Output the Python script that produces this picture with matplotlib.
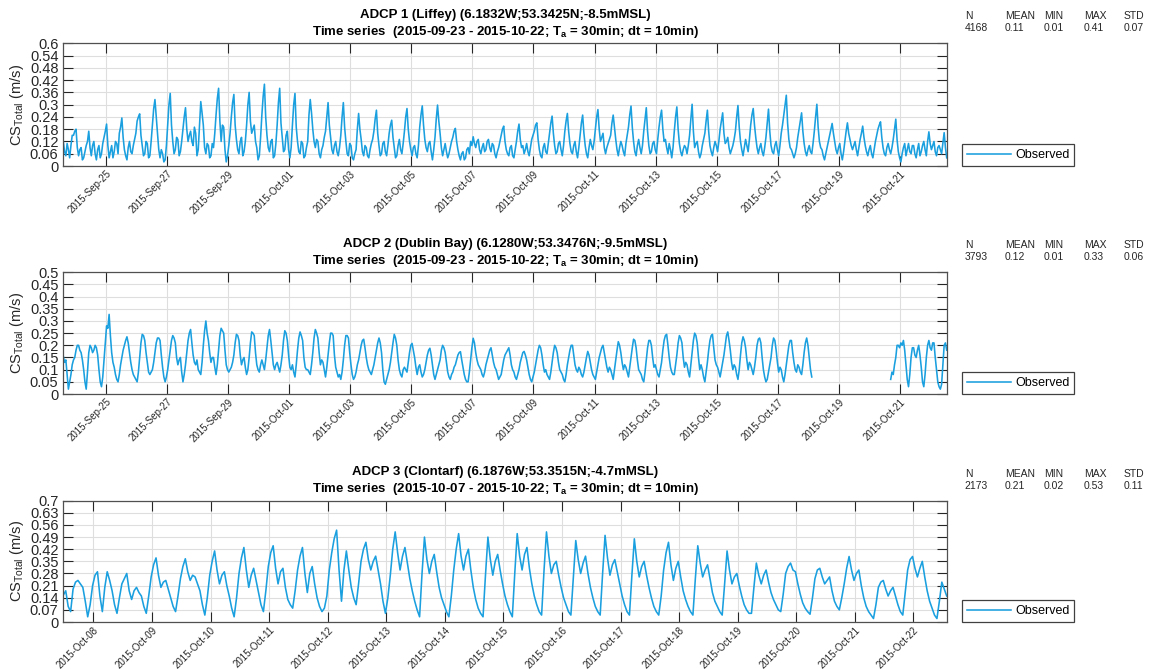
import numpy as np
import pandas as pd
import matplotlib
matplotlib.use("Agg")
import matplotlib.pyplot as plt
import matplotlib.dates as mdates
from matplotlib.ticker import FormatStrFormatter
from matplotlib.transforms import offset_copy

plt.rcParams["font.family"] = ["Liberation Sans", "DejaVu Sans"]
plt.rcParams["mathtext.default"] = "regular"

# Current speed (m/s), hourly values, one row per day
liffey_start = "2015-09-23 14:40"
liffey_speed = [
    0.12, 0.07, 0.05, 0.11, 0.08, 0.04, 0.10, 0.15, 0.15, 0.17, 0.18, 0.09, 0.05, 0.08, 0.09, 0.03, 0.04, 0.07, 0.10, 0.12, 0.17, 0.09, 0.05, 0.10,
    0.12, 0.06, 0.03, 0.08, 0.10, 0.04, 0.06, 0.11, 0.14, 0.17, 0.205, 0.10, 0.04, 0.07, 0.10, 0.04, 0.07, 0.12, 0.11, 0.06, 0.16, 0.19, 0.235, 0.14,
    0.08, 0.05, 0.03, 0.09, 0.12, 0.07, 0.06, 0.10, 0.13, 0.16, 0.22, 0.24, 0.255, 0.15, 0.10, 0.05, 0.06, 0.12, 0.11, 0.04, 0.05, 0.12, 0.20, 0.28,
    0.325, 0.24, 0.16, 0.08, 0.04, 0.08, 0.06, 0.02, 0.03, 0.10, 0.20, 0.30, 0.355, 0.20, 0.12, 0.06, 0.08, 0.14, 0.13, 0.05, 0.07, 0.12, 0.18, 0.24,
    0.285, 0.18, 0.12, 0.15, 0.17, 0.12, 0.10, 0.19, 0.16, 0.05, 0.08, 0.20, 0.315, 0.26, 0.20, 0.09, 0.06, 0.11, 0.10, 0.04, 0.05, 0.11, 0.09, 0.16,
    0.25, 0.33, 0.38, 0.22, 0.12, 0.20, 0.19, 0.08, 0.02, 0.05, 0.10, 0.16, 0.24, 0.31, 0.35, 0.20, 0.13, 0.08, 0.06, 0.12, 0.14, 0.05, 0.07, 0.12,
    0.20, 0.30, 0.36, 0.22, 0.16, 0.18, 0.20, 0.12, 0.09, 0.03, 0.05, 0.14, 0.25, 0.34, 0.40, 0.24, 0.15, 0.09, 0.07, 0.12, 0.13, 0.04, 0.05, 0.11,
    0.20, 0.31, 0.38, 0.21, 0.14, 0.07, 0.08, 0.15, 0.17, 0.08, 0.04, 0.09, 0.20, 0.30, 0.355, 0.19, 0.12, 0.07, 0.06, 0.12, 0.11, 0.04, 0.05, 0.09,
    0.12, 0.25, 0.325, 0.26, 0.18, 0.12, 0.09, 0.13, 0.12, 0.06, 0.04, 0.08, 0.10, 0.14, 0.17, 0.24, 0.31, 0.20, 0.14, 0.08, 0.06, 0.10, 0.12, 0.07,
    0.05, 0.09, 0.15, 0.24, 0.31, 0.19, 0.12, 0.06, 0.05, 0.11, 0.10, 0.04, 0.03, 0.06, 0.08, 0.18, 0.257, 0.18, 0.13, 0.07, 0.05, 0.10, 0.09, 0.05,
    0.04, 0.08, 0.11, 0.13, 0.17, 0.23, 0.273, 0.16, 0.10, 0.05, 0.06, 0.11, 0.12, 0.07, 0.05, 0.10, 0.16, 0.20, 0.224, 0.14, 0.09, 0.04, 0.05, 0.10,
    0.13, 0.08, 0.06, 0.11, 0.17, 0.24, 0.281, 0.18, 0.12, 0.08, 0.05, 0.09, 0.10, 0.06, 0.04, 0.10, 0.19, 0.25, 0.294, 0.20, 0.13, 0.09, 0.07, 0.11,
    0.12, 0.07, 0.03, 0.08, 0.14, 0.23, 0.298, 0.22, 0.16, 0.09, 0.05, 0.08, 0.11, 0.07, 0.04, 0.06, 0.09, 0.12, 0.14, 0.17, 0.184, 0.12, 0.08, 0.05,
    0.03, 0.06, 0.07, 0.03, 0.04, 0.08, 0.09, 0.06, 0.12, 0.10, 0.143, 0.11, 0.09, 0.12, 0.13, 0.08, 0.06, 0.09, 0.11, 0.07, 0.08, 0.12, 0.13, 0.09,
    0.07, 0.11, 0.10, 0.06, 0.04, 0.07, 0.09, 0.12, 0.15, 0.18, 0.195, 0.12, 0.08, 0.06, 0.05, 0.09, 0.10, 0.05, 0.04, 0.08, 0.12, 0.17, 0.205, 0.13,
    0.09, 0.10, 0.06, 0.08, 0.11, 0.07, 0.05, 0.09, 0.13, 0.15, 0.17, 0.20, 0.211, 0.13, 0.08, 0.05, 0.04, 0.09, 0.11, 0.07, 0.06, 0.11, 0.16, 0.21,
    0.244, 0.16, 0.10, 0.06, 0.07, 0.11, 0.12, 0.08, 0.05, 0.10, 0.17, 0.22, 0.257, 0.17, 0.11, 0.07, 0.06, 0.10, 0.12, 0.07, 0.04, 0.09, 0.15, 0.21,
    0.249, 0.16, 0.10, 0.06, 0.04, 0.09, 0.13, 0.10, 0.08, 0.12, 0.18, 0.24, 0.276, 0.18, 0.12, 0.14, 0.16, 0.09, 0.06, 0.09, 0.11, 0.13, 0.15, 0.21,
    0.249, 0.19, 0.13, 0.08, 0.05, 0.09, 0.12, 0.10, 0.07, 0.05, 0.11, 0.15, 0.19, 0.25, 0.293, 0.19, 0.12, 0.07, 0.05, 0.10, 0.13, 0.09, 0.06, 0.10,
    0.17, 0.23, 0.285, 0.17, 0.10, 0.06, 0.07, 0.11, 0.12, 0.08, 0.06, 0.13, 0.19, 0.24, 0.273, 0.18, 0.12, 0.13, 0.09, 0.06, 0.11, 0.08, 0.04, 0.09,
    0.17, 0.24, 0.289, 0.18, 0.11, 0.07, 0.05, 0.08, 0.10, 0.09, 0.06, 0.10, 0.15, 0.23, 0.302, 0.17, 0.09, 0.11, 0.12, 0.07, 0.04, 0.06, 0.10, 0.13,
    0.16, 0.22, 0.273, 0.17, 0.10, 0.07, 0.05, 0.09, 0.12, 0.10, 0.07, 0.12, 0.18, 0.22, 0.26, 0.16, 0.11, 0.12, 0.14, 0.09, 0.06, 0.08, 0.10, 0.13,
    0.17, 0.24, 0.296, 0.19, 0.12, 0.08, 0.05, 0.09, 0.13, 0.10, 0.07, 0.13, 0.20, 0.25, 0.281, 0.20, 0.14, 0.09, 0.06, 0.09, 0.11, 0.07, 0.05, 0.09,
    0.14, 0.21, 0.278, 0.17, 0.10, 0.07, 0.06, 0.10, 0.12, 0.08, 0.05, 0.10, 0.16, 0.20, 0.25, 0.30, 0.346, 0.21, 0.13, 0.09, 0.08, 0.06, 0.04, 0.06,
    0.09, 0.14, 0.18, 0.22, 0.26, 0.17, 0.11, 0.07, 0.05, 0.08, 0.10, 0.07, 0.06, 0.11, 0.17, 0.24, 0.302, 0.19, 0.12, 0.09, 0.08, 0.05, 0.03, 0.06,
    0.09, 0.12, 0.15, 0.18, 0.208, 0.16, 0.12, 0.08, 0.06, 0.09, 0.11, 0.06, 0.03, 0.07, 0.12, 0.17, 0.211, 0.16, 0.13, 0.10, 0.08, 0.10, 0.12, 0.08,
    0.05, 0.09, 0.13, 0.16, 0.195, 0.14, 0.10, 0.07, 0.05, 0.08, 0.10, 0.06, 0.04, 0.08, 0.12, 0.15, 0.18, 0.20, 0.216, 0.14, 0.09, 0.06, 0.05, 0.09,
    0.11, 0.08, 0.06, 0.09, 0.13, 0.18, 0.229, 0.13, 0.07, 0.04, 0.02, 0.06, 0.09, 0.11, 0.05, 0.08, 0.11, 0.07, 0.06, 0.10, 0.10, 0.06, 0.04, 0.08,
    0.11, 0.05, 0.07, 0.10, 0.12, 0.08, 0.05, 0.12, 0.167, 0.11, 0.08, 0.10, 0.12, 0.07, 0.05, 0.09, 0.10, 0.08, 0.06, 0.11, 0.163, 0.09, 0.04,
]

dublin_start = "2015-09-23 14:40"
dublin_speed = [
    0.155, 0.13, 0.14, 0.08, 0.02, 0.05, 0.08, 0.12, 0.14, 0.15, 0.18, 0.20, 0.20, 0.18, 0.17, 0.14, 0.10, 0.05, 0.02, 0.09, 0.17, 0.20, 0.19, 0.17,
    0.18, 0.20, 0.19, 0.16, 0.10, 0.05, 0.03, 0.07, 0.14, 0.21, 0.28, 0.27, 0.327, 0.24, 0.17, 0.13, 0.11, 0.08, 0.06, 0.05, 0.08, 0.12, 0.15, 0.18,
    0.20, 0.22, 0.235, 0.21, 0.17, 0.13, 0.10, 0.08, 0.07, 0.06, 0.05, 0.09, 0.15, 0.21, 0.245, 0.24, 0.22, 0.17, 0.13, 0.09, 0.08, 0.09, 0.10, 0.13,
    0.17, 0.21, 0.23, 0.23, 0.22, 0.16, 0.11, 0.07, 0.05, 0.07, 0.10, 0.14, 0.18, 0.22, 0.24, 0.23, 0.21, 0.15, 0.12, 0.14, 0.15, 0.09, 0.05, 0.08,
    0.12, 0.17, 0.22, 0.25, 0.265, 0.21, 0.16, 0.13, 0.12, 0.14, 0.10, 0.09, 0.08, 0.13, 0.20, 0.26, 0.30, 0.25, 0.22, 0.17, 0.13, 0.15, 0.15, 0.11,
    0.08, 0.12, 0.18, 0.24, 0.27, 0.26, 0.25, 0.18, 0.12, 0.10, 0.09, 0.10, 0.11, 0.13, 0.16, 0.21, 0.245, 0.24, 0.22, 0.16, 0.12, 0.14, 0.15, 0.11,
    0.08, 0.10, 0.15, 0.21, 0.255, 0.25, 0.24, 0.17, 0.12, 0.10, 0.09, 0.12, 0.14, 0.12, 0.10, 0.14, 0.19, 0.24, 0.265, 0.22, 0.17, 0.12, 0.10, 0.12,
    0.13, 0.11, 0.09, 0.12, 0.16, 0.22, 0.26, 0.25, 0.22, 0.16, 0.11, 0.10, 0.12, 0.09, 0.07, 0.12, 0.18, 0.23, 0.255, 0.24, 0.22, 0.15, 0.11, 0.10,
    0.10, 0.09, 0.08, 0.12, 0.17, 0.23, 0.265, 0.25, 0.23, 0.17, 0.12, 0.14, 0.13, 0.10, 0.07, 0.11, 0.16, 0.21, 0.25, 0.25, 0.24, 0.16, 0.11, 0.09,
    0.07, 0.08, 0.06, 0.09, 0.14, 0.20, 0.24, 0.24, 0.23, 0.17, 0.12, 0.08, 0.06, 0.07, 0.09, 0.12, 0.14, 0.17, 0.20, 0.22, 0.225, 0.19, 0.15, 0.12,
    0.10, 0.09, 0.08, 0.10, 0.12, 0.15, 0.18, 0.21, 0.23, 0.21, 0.17, 0.10, 0.05, 0.04, 0.06, 0.08, 0.10, 0.13, 0.17, 0.21, 0.245, 0.23, 0.20, 0.14,
    0.10, 0.08, 0.07, 0.10, 0.11, 0.10, 0.09, 0.13, 0.17, 0.20, 0.208, 0.18, 0.15, 0.11, 0.08, 0.11, 0.12, 0.09, 0.07, 0.08, 0.10, 0.13, 0.16, 0.18,
    0.188, 0.16, 0.12, 0.08, 0.06, 0.08, 0.10, 0.12, 0.14, 0.18, 0.20, 0.19, 0.17, 0.13, 0.09, 0.07, 0.06, 0.08, 0.09, 0.11, 0.12, 0.14, 0.16, 0.17,
    0.174, 0.14, 0.11, 0.08, 0.06, 0.05, 0.05, 0.09, 0.14, 0.19, 0.229, 0.21, 0.17, 0.14, 0.12, 0.11, 0.10, 0.08, 0.07, 0.09, 0.12, 0.14, 0.16, 0.18,
    0.19, 0.16, 0.13, 0.11, 0.10, 0.08, 0.06, 0.07, 0.08, 0.11, 0.14, 0.16, 0.17, 0.18, 0.19, 0.16, 0.12, 0.10, 0.09, 0.07, 0.06, 0.08, 0.10, 0.13,
    0.15, 0.17, 0.175, 0.16, 0.14, 0.11, 0.08, 0.06, 0.05, 0.07, 0.09, 0.12, 0.15, 0.18, 0.20, 0.19, 0.16, 0.12, 0.09, 0.10, 0.08, 0.07, 0.06, 0.09,
    0.13, 0.17, 0.20, 0.19, 0.17, 0.13, 0.10, 0.09, 0.08, 0.06, 0.05, 0.08, 0.12, 0.15, 0.18, 0.20, 0.20, 0.16, 0.12, 0.10, 0.09, 0.11, 0.10, 0.08,
    0.07, 0.09, 0.12, 0.15, 0.175, 0.16, 0.13, 0.10, 0.08, 0.07, 0.06, 0.09, 0.12, 0.15, 0.17, 0.19, 0.20, 0.17, 0.14, 0.11, 0.09, 0.11, 0.10, 0.08,
    0.06, 0.10, 0.14, 0.18, 0.215, 0.20, 0.17, 0.13, 0.10, 0.12, 0.11, 0.09, 0.07, 0.11, 0.15, 0.19, 0.225, 0.22, 0.19, 0.14, 0.10, 0.09, 0.08, 0.06,
    0.05, 0.09, 0.14, 0.19, 0.22, 0.22, 0.20, 0.15, 0.11, 0.12, 0.10, 0.08, 0.07, 0.10, 0.13, 0.18, 0.22, 0.24, 0.245, 0.20, 0.15, 0.11, 0.09, 0.08,
    0.08, 0.12, 0.16, 0.21, 0.24, 0.23, 0.21, 0.15, 0.11, 0.13, 0.12, 0.09, 0.07, 0.12, 0.17, 0.22, 0.25, 0.24, 0.21, 0.15, 0.10, 0.12, 0.10, 0.07,
    0.05, 0.09, 0.13, 0.18, 0.22, 0.24, 0.245, 0.19, 0.14, 0.12, 0.11, 0.09, 0.07, 0.10, 0.13, 0.16, 0.20, 0.24, 0.255, 0.22, 0.18, 0.13, 0.10, 0.12,
    0.11, 0.08, 0.06, 0.10, 0.16, 0.21, 0.235, 0.22, 0.19, 0.14, 0.10, 0.13, 0.12, 0.10, 0.08, 0.11, 0.15, 0.20, 0.225, 0.23, 0.21, 0.15, 0.10, 0.07,
    0.05, 0.06, 0.09, 0.12, 0.15, 0.20, 0.23, 0.22, 0.18, 0.13, 0.09, 0.11, 0.10, 0.07, 0.05, 0.08, 0.12, 0.16, 0.20, 0.22, 0.22, 0.17, 0.13, 0.10,
    0.09, 0.12, 0.11, 0.09, 0.08, 0.12, 0.17, 0.21, 0.23, 0.20, 0.15, 0.10, 0.07,
]
# record resumes after the instrument gap
dublin_late_start = "2015-10-20 16:40"
dublin_speed_late = [
    0.06, 0.09, 0.08, 0.12, 0.15, 0.20, 0.20, 0.19, 0.21, 0.20, 0.22, 0.18, 0.12, 0.06, 0.03,
    0.08, 0.15, 0.19, 0.19, 0.16, 0.15, 0.18, 0.20, 0.16, 0.11, 0.05, 0.03, 0.08, 0.15, 0.20,
    0.22, 0.19, 0.18, 0.21, 0.21, 0.15, 0.10, 0.05, 0.03, 0.02, 0.04, 0.12, 0.20, 0.21, 0.18,
]

clontarf_start = "2015-10-07 11:40"
clontarf_speed = [
    0.155, 0.18, 0.09, 0.06, 0.19, 0.23, 0.24, 0.22, 0.20, 0.12, 0.03, 0.10, 0.21, 0.27, 0.29, 0.15, 0.06, 0.20, 0.29, 0.24, 0.18, 0.10, 0.05, 0.14,
    0.22, 0.25, 0.28, 0.18, 0.13, 0.18, 0.20, 0.17, 0.15, 0.09, 0.05, 0.15, 0.26, 0.33, 0.37, 0.27, 0.20, 0.23, 0.24, 0.19, 0.14, 0.09, 0.06, 0.15,
    0.25, 0.32, 0.365, 0.29, 0.24, 0.27, 0.26, 0.22, 0.18, 0.10, 0.04, 0.14, 0.27, 0.35, 0.41, 0.30, 0.22, 0.27, 0.29, 0.21, 0.15, 0.08, 0.03, 0.14,
    0.28, 0.37, 0.43, 0.30, 0.20, 0.27, 0.31, 0.24, 0.17, 0.10, 0.06, 0.18, 0.32, 0.40, 0.44, 0.31, 0.22, 0.29, 0.31, 0.20, 0.13, 0.10, 0.08, 0.18,
    0.30, 0.38, 0.43, 0.28, 0.17, 0.28, 0.32, 0.22, 0.14, 0.09, 0.06, 0.08, 0.15, 0.30, 0.40, 0.48, 0.53, 0.30, 0.12, 0.30, 0.41, 0.30, 0.20, 0.14,
    0.10, 0.22, 0.35, 0.42, 0.46, 0.36, 0.30, 0.35, 0.38, 0.30, 0.22, 0.12, 0.05, 0.14, 0.27, 0.42, 0.52, 0.40, 0.30, 0.38, 0.43, 0.34, 0.25, 0.18,
    0.12, 0.07, 0.03, 0.28, 0.49, 0.36, 0.28, 0.35, 0.39, 0.29, 0.20, 0.14, 0.10, 0.06, 0.03, 0.15, 0.30, 0.42, 0.51, 0.38, 0.30, 0.38, 0.42, 0.30,
    0.20, 0.13, 0.08, 0.05, 0.03, 0.27, 0.49, 0.36, 0.27, 0.35, 0.39, 0.30, 0.22, 0.15, 0.10, 0.06, 0.03, 0.28, 0.51, 0.38, 0.30, 0.39, 0.43, 0.31,
    0.22, 0.15, 0.10, 0.06, 0.04, 0.30, 0.52, 0.38, 0.28, 0.33, 0.35, 0.27, 0.20, 0.14, 0.10, 0.06, 0.04, 0.26, 0.47, 0.36, 0.28, 0.34, 0.38, 0.28,
    0.20, 0.14, 0.09, 0.06, 0.04, 0.28, 0.50, 0.37, 0.27, 0.33, 0.36, 0.29, 0.22, 0.15, 0.10, 0.06, 0.04, 0.27, 0.48, 0.35, 0.26, 0.32, 0.35, 0.27,
    0.20, 0.14, 0.09, 0.06, 0.04, 0.15, 0.30, 0.40, 0.46, 0.33, 0.24, 0.31, 0.35, 0.26, 0.18, 0.13, 0.09, 0.06, 0.04, 0.25, 0.44, 0.34, 0.26, 0.30,
    0.33, 0.25, 0.17, 0.12, 0.09, 0.06, 0.04, 0.22, 0.41, 0.30, 0.22, 0.26, 0.28, 0.21, 0.15, 0.10, 0.07, 0.05, 0.05, 0.20, 0.34, 0.27, 0.22, 0.27,
    0.30, 0.23, 0.17, 0.13, 0.10, 0.07, 0.06, 0.16, 0.28, 0.32, 0.34, 0.30, 0.29, 0.22, 0.16, 0.11, 0.08, 0.06, 0.045, 0.14, 0.25, 0.30, 0.31, 0.26,
    0.22, 0.24, 0.26, 0.18, 0.12, 0.09, 0.07, 0.14, 0.22, 0.31, 0.378, 0.30, 0.24, 0.28, 0.30, 0.21, 0.14, 0.09, 0.06, 0.04, 0.02, 0.10, 0.20, 0.23,
    0.24, 0.19, 0.15, 0.18, 0.20, 0.15, 0.10, 0.06, 0.04, 0.17, 0.30, 0.36, 0.378, 0.31, 0.26, 0.31, 0.35, 0.26, 0.18, 0.12, 0.08, 0.04, 0.02, 0.12,
    0.23, 0.19, 0.15,
]
STEP = "1h"

titles = [
    ("ADCP 1 (Liffey) (6.1832W;53.3425N;-8.5mMSL)",
     "Time series  (2015-09-23 - 2015-10-22; T$_a$ = 30min; dt = 10min)"),
    ("ADCP 2 (Dublin Bay) (6.1280W;53.3476N;-9.5mMSL)",
     "Time series  (2015-09-23 - 2015-10-22; T$_a$ = 30min; dt = 10min)"),
    ("ADCP 3 (Clontarf) (6.1876W;53.3515N;-4.7mMSL)",
     "Time series  (2015-10-07 - 2015-10-22; T$_a$ = 30min; dt = 10min)"),
]
stat_names = ["N", "MEAN", "MIN", "MAX", "STD"]
stat_values = [
    ["4168", "0.11", "0.01", "0.41", "0.07"],
    ["3793", "0.12", "0.01", "0.33", "0.06"],
    ["2173", "0.21", "0.02", "0.53", "0.11"],
]
ymax = [0.6, 0.5, 0.7]
ystep = [0.06, 0.05, 0.07]

LINE = "#1a9fdf"
DARK = "#262626"

# build the time series (each panel is a list of segments)
t1 = pd.date_range(liffey_start, periods=len(liffey_speed), freq=STEP)
t2a = pd.date_range(dublin_start, periods=len(dublin_speed), freq=STEP)
t2b = pd.date_range(dublin_late_start, periods=len(dublin_speed_late), freq=STEP)
t3 = pd.date_range(clontarf_start, periods=len(clontarf_speed), freq=STEP)

segments = [
    [(t1, liffey_speed)],
    [(t2a, dublin_speed), (t2b, dublin_speed_late)],
    [(t3, clontarf_speed)],
]
xlims = [(t1[0], t1[-1]), (t2a[0], t2b[-1]), (t3[0], t3[-1])]
xticks = [
    pd.date_range("2015-09-25", "2015-10-21", freq="2D"),
    pd.date_range("2015-09-25", "2015-10-21", freq="2D"),
    pd.date_range("2015-10-08", "2015-10-22", freq="1D"),
]

fig = plt.figure(figsize=(11.56, 6.69), dpi=100)
W, H = 1156.0, 669.0
left, right = 63.3, 946.7
frames = [(43.3, 166.0), (272.3, 394.0), (500.7, 622.0)]

for i, (top, bottom) in enumerate(frames):
    ax = fig.add_axes([left / W, 1 - bottom / H, (right - left) / W, (bottom - top) / H])
    for j, (t, s) in enumerate(segments[i]):
        ax.plot(t, s, color=LINE, lw=1.15, label="Observed" if j == 0 else None)
    ax.set_xlim(*xlims[i])
    ax.set_ylim(0, ymax[i])
    ax.set_yticks(np.round(np.arange(0, ymax[i] + 1e-9, ystep[i]), 2))
    ax.yaxis.set_major_formatter(FormatStrFormatter("%g"))
    ax.set_xticks(xticks[i])
    ax.xaxis.set_major_formatter(mdates.DateFormatter("%Y-%b-%d"))
    ax.grid(True, color="#dedede", lw=0.8)
    ax.set_axisbelow(True)
    ax.tick_params(direction="in", length=7, width=0.8, top=True, right=True,
                   colors=DARK, labelsize=10.5)
    ax.tick_params(axis="x", labelsize=7, pad=2)
    for lab in ax.get_xticklabels():
        lab.set_rotation(45)
        lab.set_ha("right")
        lab.set_va("top")
        lab.set_rotation_mode("anchor")
    for sp in ax.spines.values():
        sp.set_color("#505050")
        sp.set_linewidth(0.9)
    ax.set_ylabel("CS$_{Total}$ (m/s)", fontsize=10.5, color=DARK, labelpad=3)

    # two-line bold title above the frame
    for line, dy in zip(titles[i], (28.5, 11.5)):
        tr = offset_copy(ax.transAxes, fig=fig, y=dy, units="dots")
        ax.text(0.5, 1.0, line, transform=tr, ha="center", va="center",
                fontsize=9.5, fontweight="bold", color="black")

    # summary statistics to the right
    for name, val, dx in zip(stat_names, stat_values[i], (18, 58, 97, 137, 177)):
        tr = offset_copy(ax.transAxes, fig=fig, x=dx, y=27, units="dots")
        ax.text(1.0, 1.0, name, transform=tr, ha="left", va="center", fontsize=7.5, color=DARK)
        tr = offset_copy(ax.transAxes, fig=fig, x=dx, y=15, units="dots")
        ax.text(1.0, 1.0, val, transform=tr, ha="left", va="center", fontsize=7.5, color=DARK)

    leg = ax.legend(loc="lower left", bbox_to_anchor=(1.0173, 0.0), borderaxespad=0,
                    fontsize=9, fancybox=False, handlelength=3.5, handletextpad=0.35,
                    borderpad=0.4, framealpha=1)
    leg.get_frame().set_edgecolor("#404040")
    leg.get_frame().set_linewidth(0.9)

fig.savefig("out.png", dpi=100)
